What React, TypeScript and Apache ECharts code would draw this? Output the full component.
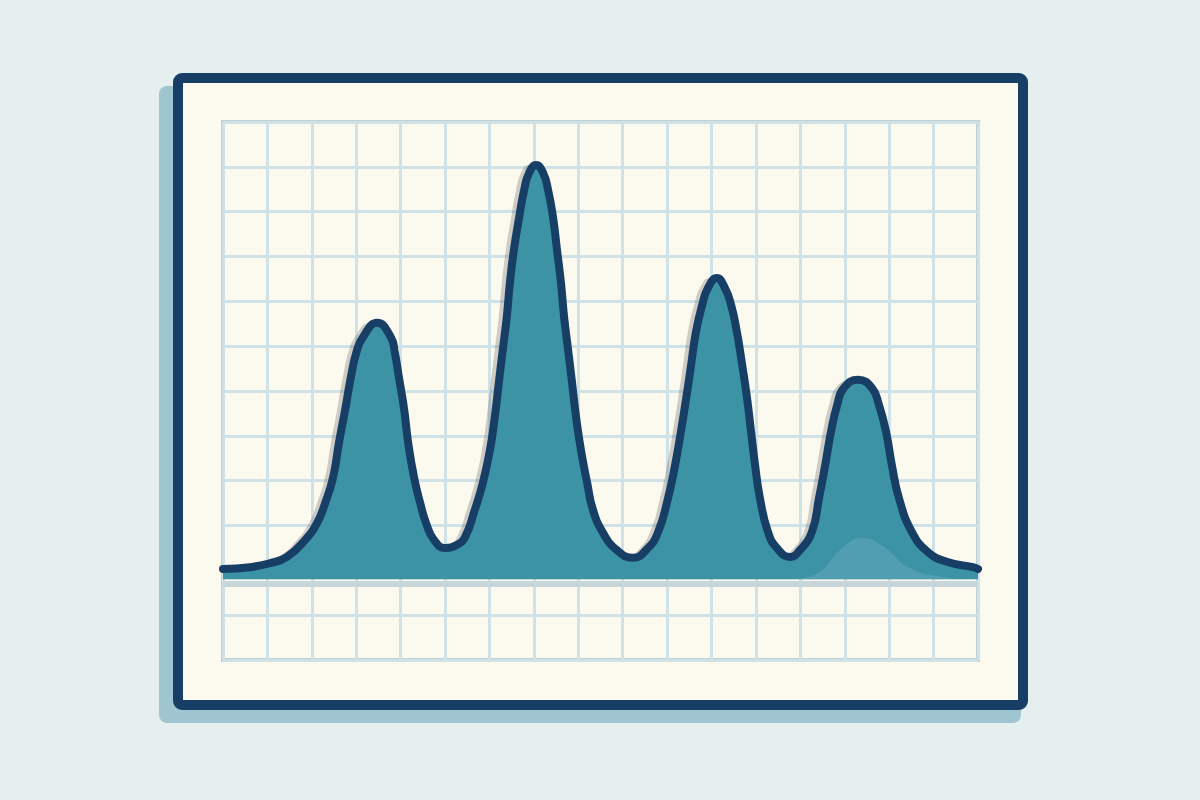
import React, { useEffect, useRef } from "react";
import * as echarts from "echarts";

// Curve (x in grid columns, y in grid rows)
const curveX = [0.0, 0.61, 1.06, 1.44, 1.85, 2.12, 2.3, 2.48, 2.61, 2.75, 2.88, 3.0, 3.15, 3.47, 3.78, 3.87, 3.96, 4.08, 4.17, 4.3, 4.44, 4.57, 4.75, 5.0, 5.27, 5.45, 5.67, 5.85, 6.01, 6.12, 6.21, 6.3, 6.39, 6.46, 6.55, 6.67, 6.78, 6.89, 7.05, 7.21, 7.32, 7.43, 7.52, 7.61, 7.68, 7.77, 7.86, 7.95, 8.06, 8.2, 8.33, 8.56, 8.87, 9.23, 9.57, 9.8, 10.02, 10.18, 10.31, 10.43, 10.54, 10.65, 10.79, 10.92, 11.12, 11.3, 11.44, 11.57, 11.69, 11.8, 11.89, 11.98, 12.09, 12.27, 12.47, 12.77, 12.99, 13.26, 13.42, 13.56, 13.69, 13.83, 13.98, 14.3, 14.61, 14.77, 14.93, 15.06, 15.22, 15.51, 15.87, 16.3, 16.89, 17.0];
const curveY = [2.03, 2.07, 2.16, 2.3, 2.68, 3.06, 3.5, 4.08, 4.84, 5.58, 6.31, 6.85, 7.2, 7.52, 7.2, 6.85, 6.31, 5.58, 4.84, 4.08, 3.5, 3.06, 2.68, 2.5, 2.57, 2.74, 3.35, 3.95, 4.68, 5.42, 6.18, 6.92, 7.65, 8.41, 9.15, 9.88, 10.48, 10.86, 11.04, 10.86, 10.48, 9.88, 9.15, 8.41, 7.65, 6.92, 6.18, 5.42, 4.68, 3.95, 3.35, 2.83, 2.45, 2.28, 2.5, 2.86, 3.61, 4.35, 5.09, 5.84, 6.58, 7.32, 7.92, 8.3, 8.52, 8.3, 7.92, 7.32, 6.58, 5.84, 5.09, 4.35, 3.61, 2.86, 2.5, 2.3, 2.45, 2.86, 3.61, 4.35, 5.09, 5.69, 6.07, 6.25, 6.07, 5.69, 5.09, 4.35, 3.61, 2.86, 2.41, 2.19, 2.07, 2.03];

// faint secondary bump under the last peak
const ghostX = [12.84, 13.44, 13.89, 14.41, 14.91, 15.47, 16.15, 16.75];
const ghostY = [1.8, 1.97, 2.45, 2.72, 2.5, 2.05, 1.86, 1.8];

const baseline = 1.8;
const colCount = 17;
const rowCount = 12;

const navy = "#173f66";
const teal = "#3d93a6";

export default function App() {
  const ref = useRef<HTMLDivElement>(null);
  useEffect(() => {
    document.body.style.margin = "0";
    const chart = echarts.init(ref.current!, null, { renderer: "svg" });
    const curve = curveX.map((x, i) => [x, curveY[i]]);
    const ghost = ghostX.map((x, i) => [x, ghostY[i]]);
    chart.setOption({
      animation: false,
      backgroundColor: "#e5efef",
      graphic: [
        {
          type: "rect",
          z: -20,
          shape: { x: 159, y: 86, width: 862, height: 637, r: 8 },
          style: { fill: "#9fc5d1" },
        },
        {
          type: "rect",
          z: -19,
          shape: { x: 178, y: 78, width: 845, height: 627, r: 4 },
          style: { fill: "#fcf9ef", stroke: navy, lineWidth: 10 },
        },
      ],
      grid: {
        left: 223,
        top: 122,
        width: 755,
        height: 538,
        show: true,
        backgroundColor: "#fcf9ef",
        borderColor: "#bfd0d5",
        borderWidth: 4,
      },
      xAxis: {
        type: "value",
        min: 0,
        max: colCount,
        interval: 1,
        axisLine: { show: false },
        axisTick: { show: false },
        axisLabel: { show: false },
        splitLine: { show: true, lineStyle: { color: "#cfe2e8", width: 3 } },
      },
      yAxis: {
        type: "value",
        min: 0,
        max: rowCount,
        interval: 1,
        axisLine: { show: false },
        axisTick: { show: false },
        axisLabel: { show: false },
        splitLine: { show: true, lineStyle: { color: "#cfe2e8", width: 3 } },
      },
      series: [
        {
          type: "line",
          data: curve,
          smooth: 0.5,
          showSymbol: false,
          symbol: "none",
          z: 2,
          lineStyle: { width: 0, opacity: 0 },
          areaStyle: {
            origin: baseline,
            color: teal,
            opacity: 1,
            shadowColor: "rgba(70,70,70,0.25)",
            shadowOffsetX: -8,
            shadowOffsetY: 0,
            shadowBlur: 1,
          },
          markLine: {
            silent: true,
            symbol: "none",
            label: { show: false },
            lineStyle: { color: "#c6d6da", width: 6, type: "solid" },
            data: [{ yAxis: baseline - 0.1 }],
          },
        },
        {
          type: "line",
          data: ghost,
          smooth: 0.5,
          showSymbol: false,
          symbol: "none",
          z: 3,
          lineStyle: { width: 0, opacity: 0 },
          areaStyle: { origin: baseline, color: "rgba(140,195,205,0.35)" },
        },
        {
          type: "line",
          data: curve,
          smooth: 0.5,
          showSymbol: false,
          symbol: "none",
          z: 4,
          lineStyle: { color: navy, width: 8, cap: "round", join: "round" },
        },
      ],
    });
    return () => chart.dispose();
  }, []);
  return <div ref={ref} style={{ position: "fixed", left: 0, top: 0, width: 1200, height: 800 }} />;
}
